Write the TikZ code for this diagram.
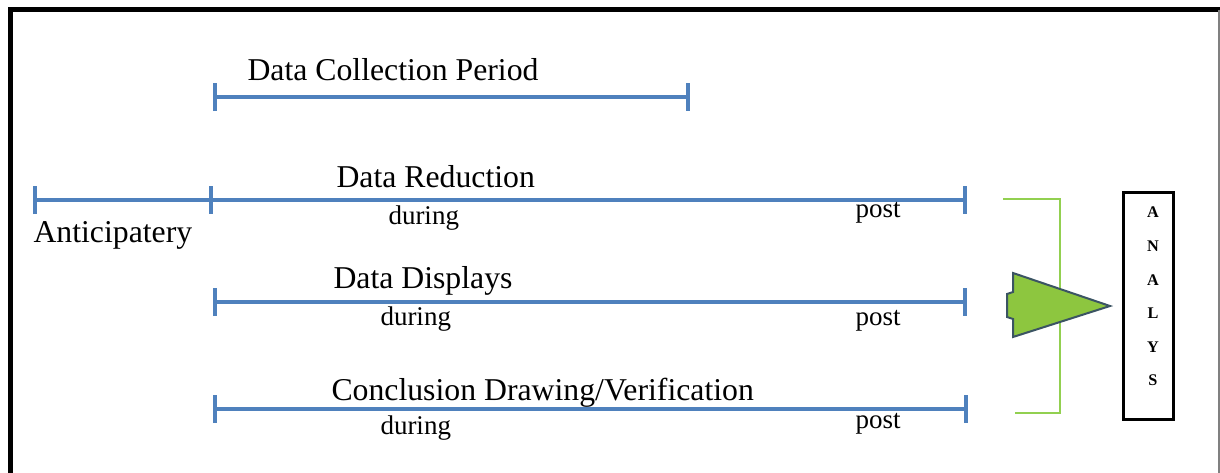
\documentclass[tikz,border=0pt]{standalone}
\usepackage{fontspec}
\setmainfont{Liberation Serif}
\usetikzlibrary{arrows.meta}

\definecolor{lineblue}{HTML}{4F81BD}
\definecolor{brackgreen}{HTML}{92D050}
\definecolor{arrowgreen}{HTML}{8DC63F}
\definecolor{arrowedge}{HTML}{3B5463}

\begin{document}
\begin{tikzpicture}[x=0.4pt, y=-0.4pt,
  period/.style={draw=lineblue, line width=1.6pt},
  head/.style={font=\fontsize{12.7}{15}\selectfont, anchor=base west, inner sep=0pt},
  phase/.style={font=\fontsize{10.8}{13}\selectfont, anchor=base west, inner sep=0pt},
  letter/.style={font=\fontsize{6.5}{7}\selectfont\bfseries, inner sep=0pt}]

\useasboundingbox (0,0) rectangle (1220,473);

% --- Frame ---
\draw[line width=2pt] (10,473) -- (10,9.5) -- (1220,9.5);
\draw[gray, line width=0.5pt] (1219,9.5) -- (1219,473);

% --- Period end points ---
\coordinate (dc-s) at (213,97);  \coordinate (dc-e) at (690,97);
\coordinate (an-s) at (33,200);  \coordinate (dr-s) at (213,200);
\coordinate (dr-e) at (967,200);
\coordinate (dd-s) at (213,302); \coordinate (dd-e) at (967,302);
\coordinate (cd-s) at (213,409); \coordinate (cd-e) at (968,409);

% --- Periods ---
\draw[period, {Bar[width=11.2pt]}-{Bar[width=11.2pt]}] (dc-s) -- (dc-e);
\draw[period, {Bar[width=11.2pt]}-{Bar[width=11.2pt]}] (an-s) -- (dr-s);
\draw[period, -{Bar[width=11.2pt]}] (dr-s) -- (dr-e);
\draw[period, {Bar[width=11.2pt]}-{Bar[width=11.2pt]}] (dd-s) -- (dd-e);
\draw[period, {Bar[width=11.2pt]}-{Bar[width=11.2pt]}] (cd-s) -- (cd-e);

% --- Titles ---
\node[head] (collect) at (247,80) {Data Collection Period};
\node[head] (reduce) at (336,187) {Data Reduction};
\node[head] (display) at (333,288) {Data Displays};
\node[head] (conclude) at (331,400) {Conclusion Drawing/Verification};
\node[head] (anticip) at (33,242) {Anticipatery};

% --- during / post ---
\foreach \nm/\xd/\yd/\yp in {r/388/224/217, d/380/325/325, c/380/434/428} {
  \node[phase] (during-\nm) at (\xd,\yd) {during};
  \node[phase] (post-\nm) at (855,\yp) {post};
}

% --- Bracket and arrow ---
\draw[brackgreen, line width=0.8pt] (1003,199) -- (1060,199) -- (1060,413) -- (1015,413);
\draw[fill=arrowgreen, draw=arrowedge, line width=0.8pt]
  (1013,273) -- (1110,306) -- (1013,337) -- (1013,319) -- (1007,317)
  -- (1007,294) -- (1013,292) -- cycle;

% --- Analysis box ---
\node[draw, line width=1.2pt, minimum width=20pt, minimum height=90.8pt,
  inner sep=0pt] (analys) at (1148,305.5) {};
\foreach \l [count=\i] in {A,N,A,L,Y,S} {
  \node[letter] (let\i) at (1153,179+33.6*\i) {\l};
}

\end{tikzpicture}
\end{document}
